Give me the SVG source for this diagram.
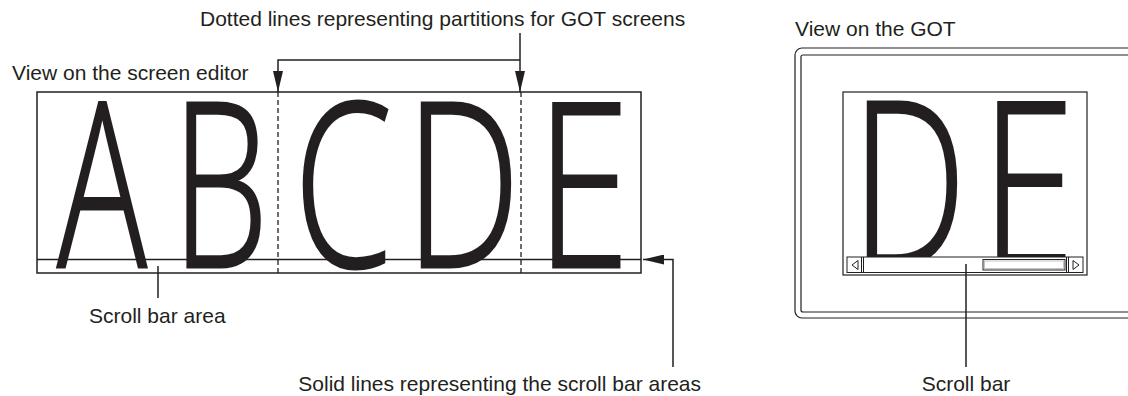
<svg xmlns="http://www.w3.org/2000/svg" width="1128" height="396" viewBox="0 0 1128 396">
<style>
.lbl{font-family:"Liberation Sans",Arial,sans-serif;font-size:21px;fill:#231f20}
.big{font-family:"Open Sans","Liberation Sans",sans-serif;font-weight:300;font-size:229px;fill:#231f20;text-anchor:middle;stroke:#231f20;stroke-width:2.6;vector-effect:non-scaling-stroke;stroke-linejoin:miter}
.ln{fill:none;stroke:#231f20;stroke-width:1.5}
.thin{fill:none;stroke:#231f20;stroke-width:1.2}
.dash{fill:none;stroke:#231f20;stroke-width:1.3;stroke-dasharray:5 3}
</style>
<defs>
<marker id="ah" markerUnits="userSpaceOnUse" markerWidth="21" markerHeight="10" refX="21" refY="5" orient="auto">
<path d="M0,0 L21,5 L0,10 z" fill="#231f20"/>
</marker>
</defs>
<rect width="1128" height="396" fill="#fff"/>

<g id="editor">
<text class="lbl" x="12" y="80">View on the screen editor</text>
<rect class="ln" x="37" y="92" width="604" height="181" fill="#fff"/>
<line class="ln" x1="37" y1="259.5" x2="641" y2="259.5"/>
<line class="dash" x1="278" y1="92" x2="278" y2="273"/>
<line class="dash" x1="521" y1="92" x2="521" y2="273"/>
<text class="big" transform="translate(102,267) scale(0.65,1)">A</text>
<text class="big" transform="translate(220,267) scale(0.67,1)">B</text>
<text class="big" transform="translate(343,267) scale(0.69,1)">C</text>
<text class="big" transform="translate(463,267) scale(0.71,1)">D</text>
<text class="big" transform="translate(583,267) scale(0.74,1)">E</text>
</g>

<g id="got">
<text class="lbl" x="795" y="36">View on the GOT</text>
<rect class="thin" x="795" y="48" width="360" height="270" rx="7"/>
<rect class="thin" x="801" y="55" width="350" height="257" rx="2"/>
<rect class="thin" x="843" y="92" width="244" height="183" fill="#fff"/>
<text class="big" transform="translate(909,266) scale(0.71,1)">D</text>
<text class="big" transform="translate(1028,266) scale(0.74,1)">E</text>
<g id="scrollbar">
<rect x="847" y="257" width="236" height="15.5" fill="#fff" stroke="#231f20" stroke-width="1"/>
<line x1="861.5" y1="257" x2="861.5" y2="272.5" stroke="#231f20" stroke-width="1"/>
<line x1="863.5" y1="257" x2="863.5" y2="272.5" stroke="#231f20" stroke-width="1"/>
<polygon points="852,265 858,260.5 858,269.5" fill="none" stroke="#231f20" stroke-width="1"/>
<line x1="1066.5" y1="257" x2="1066.5" y2="272.5" stroke="#231f20" stroke-width="1"/>
<line x1="1068.5" y1="257" x2="1068.5" y2="272.5" stroke="#231f20" stroke-width="1"/>
<polygon points="1079,265 1073,260.5 1073,269.5" fill="none" stroke="#231f20" stroke-width="1"/>
<rect x="983" y="259.5" width="82" height="10.5" fill="#fff" stroke="#231f20" stroke-width="1"/>
<rect x="984.5" y="261" width="79" height="7.5" fill="none" stroke="#999" stroke-width="0.6"/>
</g>
</g>

<g id="labels">
<text class="lbl" x="200" y="26">Dotted lines representing partitions for GOT screens</text>
<text class="lbl" x="89" y="323">Scroll bar area</text>
<text class="lbl" x="701" y="391" text-anchor="end">Solid lines representing the scroll bar areas</text>
<text class="lbl" x="966" y="391" text-anchor="middle">Scroll bar</text>
</g>

<g id="connectors">
<path class="ln" d="M520,33 V92" marker-end="url(#ah)"/>
<path class="ln" d="M520,60 H278 V92" marker-end="url(#ah)"/>
<path class="ln" d="M673,367 V259.5 H643" marker-end="url(#ah)"/>
<line class="ln" x1="158" y1="266" x2="158" y2="298"/>
<line class="ln" x1="966" y1="264" x2="966" y2="367"/>
</g>
</svg>
